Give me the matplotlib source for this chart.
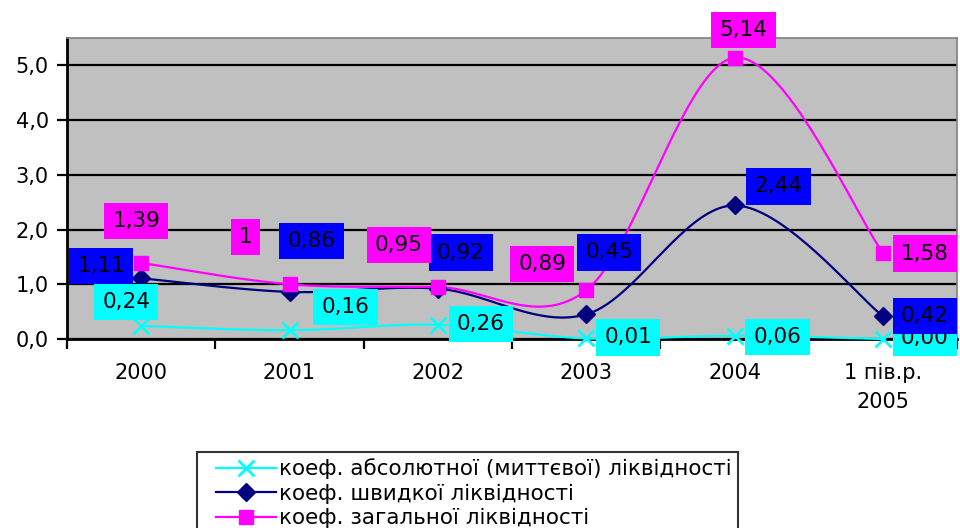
import numpy as np
import matplotlib
matplotlib.use("Agg")
import matplotlib.pyplot as plt
from matplotlib.legend_handler import HandlerLine2D

plt.rcParams['font.family'] = ['DejaVu Sans']

categories = ["2000", "2001", "2002", "2003", "2004", "1 пів.р.\n2005"]
absolute = [0.24, 0.16, 0.26, 0.01, 0.06, 0.00]
quick = [1.11, 0.86, 0.92, 0.45, 2.44, 0.42]
general = [1.39, 1.00, 0.95, 0.89, 5.14, 1.58]
absolute_labels = ["0,24", "0,16", "0,26", "0,01", "0,06", "0,00"]
quick_labels = ["1,11", "0,86", "0,92", "0,45", "2,44", "0,42"]
general_labels = ["1,39", "1", "0,95", "0,89", "5,14", "1,58"]
series_names = ["коеф. абсолютної (миттєвої) ліквідності",
                "коеф. швидкої ліквідності",
                "коеф. загальної ліквідності"]
y_ticks = [0, 1, 2, 3, 4, 5]
y_tick_labels = ["0,0", "1,0", "2,0", "3,0", "4,0", "5,0"]

# label offsets in pixels (layout)
abs_off = [(-15, 24), (56, 23), (43, 1), (42, 1), (43, -1), (42, 1)]
quick_off = [(-40, 12), (22, 51), (23, 36), (23, 62), (44, 19), (42, 0)]
gen_off = [(-5, 42), (-44, 47), (-39, 42), (-44, 26), (9, 28), (42, -1)]


def smooth(x, y, n=40):
    """Excel-like smoothed curve (Catmull-Rom Bezier)."""
    x = np.asarray(x, float)
    y = np.asarray(y, float)
    px = np.concatenate([[x[0]], x, [x[-1]]])
    py = np.concatenate([[y[0]], y, [y[-1]]])
    xs, ys = [], []
    t = np.linspace(0, 1, n)
    for i in range(1, len(px) - 2):
        p0 = np.array([px[i], py[i]])
        p3 = np.array([px[i + 1], py[i + 1]])
        c1 = p0 + (np.array([px[i + 1], py[i + 1]]) - np.array([px[i - 1], py[i - 1]])) / 6
        c2 = p3 - (np.array([px[i + 2], py[i + 2]]) - np.array([px[i], py[i]])) / 6
        b = ((1 - t) ** 3)[:, None] * p0 + (3 * (1 - t) ** 2 * t)[:, None] * c1 \
            + (3 * (1 - t) * t ** 2)[:, None] * c2 + (t ** 3)[:, None] * p3
        xs.append(b[:, 0])
        ys.append(b[:, 1])
    return np.concatenate(xs), np.concatenate(ys)


fig = plt.figure(figsize=(9.6, 5.28), dpi=100)
ax = fig.add_axes([67 / 960, 1 - 339 / 528, 890 / 960, 301 / 528])
ax.set_facecolor("#C0C0C0")

x = np.arange(len(categories))
ax.set_xlim(-0.5, len(categories) - 0.5)
ax.set_ylim(0, 5.5)

ax.set_yticks(y_ticks)
ax.set_yticklabels(y_tick_labels, fontsize=15)
ax.yaxis.grid(True, color="black", linewidth=1.6)
ax.set_axisbelow(True)

ax.set_xticks(np.arange(len(categories) + 1) - 0.5)
ax.set_xticklabels([])
ax.set_xticks(x, minor=True)
ax.set_xticklabels(categories, minor=True, fontsize=15, linespacing=1.6)
ax.tick_params(axis="x", which="minor", length=0, pad=17)
ax.tick_params(axis="x", which="major", length=7, width=1.6, direction="out")
ax.tick_params(axis="y", length=7, width=1.6, direction="out", pad=6)

for s in ["top", "right"]:
    ax.spines[s].set_color("#808080")
    ax.spines[s].set_linewidth(1.2)
for s in ["left", "bottom"]:
    ax.spines[s].set_color("black")
    ax.spines[s].set_linewidth(2)

specs = [
    (absolute, absolute_labels, abs_off, "#00FFFF", "x", 11, "#00FFFF", series_names[0]),
    (quick, quick_labels, quick_off, "#000080", "D", 9, "#0000FF", series_names[1]),
    (general, general_labels, gen_off, "#FF00FF", "s", 10, "#FF00FF", series_names[2]),
]

handles = []
for vals, labs, offs, col, mk, ms, boxcol, name in specs:
    sx, sy = smooth(x, vals)
    ax.plot(sx, sy, color=col, linewidth=1.6, zorder=3, clip_on=False)
    ax.plot(x, vals, linestyle="none", marker=mk, markersize=ms, color=col,
            markeredgewidth=2 if mk == "x" else 1, zorder=4, clip_on=False)
    h, = ax.plot([], [], color=col, linewidth=1.6, marker=mk, markersize=ms,
                 markeredgewidth=2 if mk == "x" else 1, label=name)
    handles.append(h)

z = 10
for vals, labs, offs, col, mk, ms, boxcol, name in specs:
    for xi, v, lab, off in zip(x, vals, labs, offs):
        ax.annotate(lab, (xi, v), xytext=off, textcoords="offset pixels",
                    ha="center", va="center", fontsize=15.5, color="black",
                    bbox=dict(boxstyle="square,pad=0.38", facecolor=boxcol, edgecolor="none"),
                    zorder=z, annotation_clip=False)
        z += 1

leg = fig.legend(handles=handles, loc="upper left",
                 bbox_to_anchor=(197 / 960, 1 - 452 / 528),
                 fontsize=15.5, frameon=True, fancybox=False, edgecolor="black",
                 handlelength=3.35, handletextpad=0.15, labelspacing=0.2,
                 borderpad=0.3, borderaxespad=0,
                 handler_map={h: HandlerLine2D(xpad=0.56) for h in handles})
leg.get_frame().set_linewidth(1.5)

fig.savefig("out.png", dpi=100)
